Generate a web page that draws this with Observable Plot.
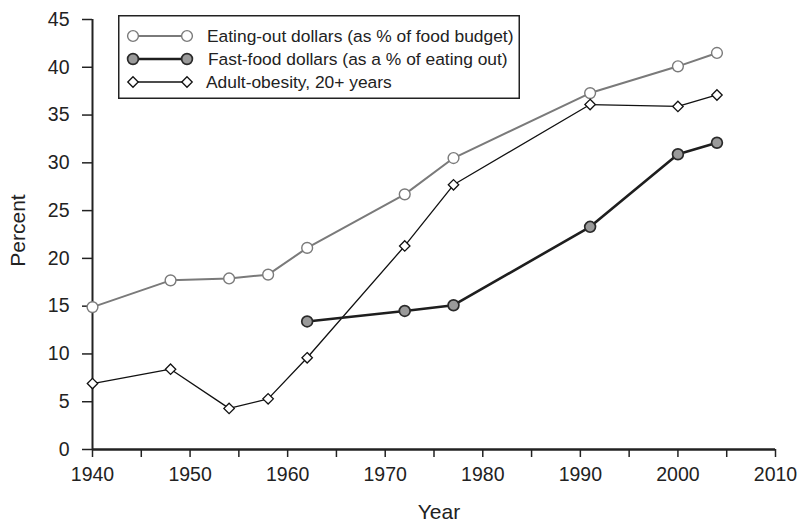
<!DOCTYPE html>
<html>
<head>
<meta charset="utf-8">
<script src="https://cdn.jsdelivr.net/npm/d3@7"></script>
<script src="https://cdn.jsdelivr.net/npm/@observablehq/plot@0.6"></script>
<style>
  html, body { margin: 0; padding: 0; background: #fff; }
  #wrap { position: relative; width: 800px; height: 530px; font-family: "Liberation Sans", Arial, sans-serif; }
  #legend { position: absolute; left: 118px; top: 15px; }
</style>
</head>
<body>
<div id="wrap"><div id="chart"></div><div id="legend"></div></div>
<script>
// Data
const eatingOutYears = [1940, 1948, 1954, 1958, 1962, 1972, 1977, 1991, 2000, 2004];
const eatingOutPct   = [14.9, 17.7, 17.9, 18.3, 21.1, 26.7, 30.5, 37.3, 40.1, 41.5];
const fastFoodYears  = [1962, 1972, 1977, 1991, 2000, 2004];
const fastFoodPct    = [13.4, 14.5, 15.1, 23.3, 30.9, 32.1];
const obesityYears   = [1940, 1948, 1954, 1958, 1962, 1972, 1977, 1991, 2000, 2004];
const obesityPct     = [6.9, 8.4, 4.3, 5.3, 9.6, 21.3, 27.7, 36.1, 35.9, 37.1];
const seriesNames = [
  "Eating-out dollars (as % of food budget)",
  "Fast-food dollars (as a % of eating out)",
  "Adult-obesity, 20+ years"
];
const xTicks = d3.range(1940, 2011, 5);
const yTicks = d3.range(0, 46, 5);

const eatingOut = eatingOutYears.map((y, i) => ({year: y, pct: eatingOutPct[i]}));
const fastFood = fastFoodYears.map((y, i) => ({year: y, pct: fastFoodPct[i]}));
const obesity = obesityYears.map((y, i) => ({year: y, pct: obesityPct[i]}));

const styles = [
  {stroke: "#7a7a7a", sw: 2, symbol: "circle", fill: "#fff", dotStroke: "#7a7a7a", r: 5.4, dsw: 1.4},
  {stroke: "#1e1e1e", sw: 2.6, symbol: "circle", fill: "#9a9a9a", dotStroke: "#2a2a2a", r: 5.4, dsw: 1.7},
  {stroke: "#111", sw: 1.3, symbol: "diamond2", fill: "#fff", dotStroke: "#111", r: 4.7, dsw: 1.3}
];

const chart = Plot.plot({
  width: 800,
  height: 530,
  marginLeft: 92,
  marginRight: 25,
  marginTop: 19,
  marginBottom: 81,
  style: {fontFamily: "Liberation Sans, Arial, sans-serif", fontSize: "19px", color: "#222", background: "#fff"},
  x: {domain: [1940, 2010]},
  y: {domain: [0, 45]},
  marks: [
    Plot.axisX({ticks: xTicks, tickFormat: d => d % 10 === 0 ? String(d) : "", tickSize: 8, tickPadding: 10, strokeWidth: 1.5, fontSize: 19.5, label: null}),
    Plot.axisY({ticks: yTicks, tickSize: 10, tickPadding: 13, strokeWidth: 1.5, fontSize: 19.5, label: null}),
    Plot.text(["Year"], {frameAnchor: "bottom", textAnchor: "middle", lineAnchor: "middle", dx: 5, dy: 63, fontSize: 21, fill: "#222"}),
    Plot.text(["Percent"], {frameAnchor: "left", textAnchor: "middle", lineAnchor: "middle", dx: -74, dy: -4, rotate: -90, fontSize: 21, fill: "#222"}),
    Plot.ruleY([0], {stroke: "#222", strokeWidth: 2.5}),
    Plot.ruleX([1940], {stroke: "#222", strokeWidth: 2}),
    Plot.line(eatingOut, {x: "year", y: "pct", stroke: styles[0].stroke, strokeWidth: styles[0].sw}),
    Plot.line(obesity, {x: "year", y: "pct", stroke: styles[2].stroke, strokeWidth: styles[2].sw}),
    Plot.line(fastFood, {x: "year", y: "pct", stroke: styles[1].stroke, strokeWidth: styles[1].sw}),
    Plot.dot(eatingOut, {x: "year", y: "pct", r: styles[0].r, symbol: "circle", fill: styles[0].fill, stroke: styles[0].dotStroke, strokeWidth: styles[0].dsw}),
    Plot.dot(obesity, {x: "year", y: "pct", r: styles[2].r, symbol: "diamond2", fill: styles[2].fill, stroke: styles[2].dotStroke, strokeWidth: styles[2].dsw}),
    Plot.dot(fastFood, {x: "year", y: "pct", r: styles[1].r, symbol: "circle", fill: styles[1].fill, stroke: styles[1].dotStroke, strokeWidth: styles[1].dsw})
  ]
});
d3.select(chart).selectAll('g[aria-label="x-axis tick label"], g[aria-label="y-axis tick label"]')
  .attr("font-size", 19.5).attr("fill", "#222");
document.getElementById("chart").appendChild(chart);

// Legend
const lw = 402, lh = 84;
const svg = d3.select("#legend").append("svg").attr("width", lw).attr("height", lh)
  .style("font-family", "Liberation Sans, Arial, sans-serif");
svg.append("rect").attr("x", 0.75).attr("y", 0.75).attr("width", lw - 1.5).attr("height", lh - 1.5)
  .attr("fill", "#fff").attr("stroke", "#222").attr("stroke-width", 1.5);
const rowsY = [21, 44, 67];
const textX = [89, 90, 88];
const symbolGen = [d3.symbolCircle, d3.symbolCircle, d3.symbolDiamond2];
seriesNames.forEach((name, i) => {
  const s = styles[i], yy = rowsY[i];
  svg.append("line").attr("x1", 15).attr("x2", 69).attr("y1", yy).attr("y2", yy)
    .attr("stroke", s.stroke).attr("stroke-width", s.sw);
  [15, 69].forEach(xx => {
    const area = Math.PI * s.r * s.r;
    svg.append("path").attr("d", d3.symbol(symbolGen[i], area)())
      .attr("transform", `translate(${xx},${yy})`)
      .attr("fill", s.fill).attr("stroke", s.dotStroke).attr("stroke-width", s.dsw);
  });
  svg.append("text").attr("x", textX[i]).attr("y", yy).attr("dy", "0.35em")
    .attr("font-size", 17.4).attr("fill", "#222")
    .text(name);
});
</script>
</body>
</html>
